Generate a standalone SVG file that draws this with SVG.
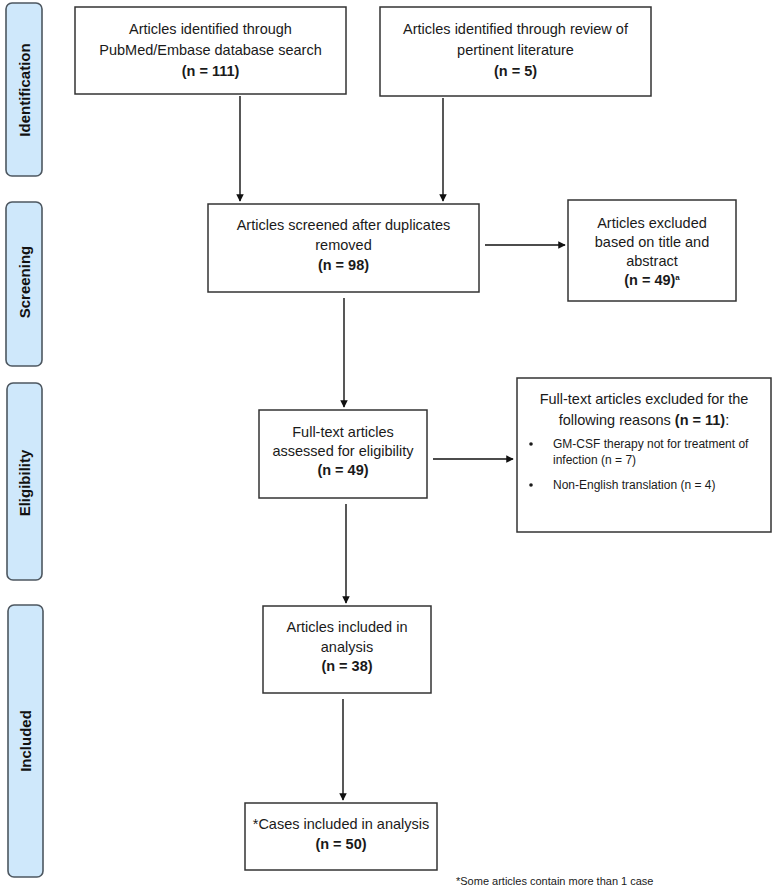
<svg xmlns="http://www.w3.org/2000/svg" width="777" height="888" viewBox="0 0 777 888">
<style>
.bg{fill:#ffffff}
.side{fill:#cfe8fb;stroke:#4d5760;stroke-width:1.6}
.sidet{font-family:"Liberation Sans",Arial,sans-serif;font-size:15px;font-weight:bold;fill:#111;text-anchor:middle;dominant-baseline:central}
.box{fill:#ffffff;stroke:#333;stroke-width:1.5}
.t{font-family:"Liberation Sans",Arial,sans-serif;font-size:14.5px;fill:#1a1a1a;text-anchor:middle}
.b{font-weight:bold}
.s{font-family:"Liberation Sans",Arial,sans-serif;font-size:12px;fill:#1a1a1a}
.fn{font-family:"Liberation Sans",Arial,sans-serif;font-size:11px;fill:#1a1a1a}
.c{stroke:#111;stroke-width:1.4;fill:none;marker-end:url(#ah)}
</style>
<defs>
<marker id="ah" viewBox="0 0 10 10" refX="9" refY="5" markerWidth="7.5" markerHeight="7.5" orient="auto" markerUnits="userSpaceOnUse">
<path d="M0,0 L10,5 L0,10 z" fill="#111"/>
</marker>
</defs>
<rect class="bg" x="0" y="0" width="777" height="888"/>

<g id="phase-identification">
<rect class="side" x="6" y="3" width="36" height="173" rx="6"/>
<text class="sidet" transform="translate(24,90) rotate(-90)">Identification</text>
</g>
<g id="phase-screening">
<rect class="side" x="6" y="202" width="36" height="164" rx="6"/>
<text class="sidet" transform="translate(24,282) rotate(-90)">Screening</text>
</g>
<g id="phase-eligibility">
<rect class="side" x="7" y="383" width="35" height="197" rx="6"/>
<text class="sidet" transform="translate(24,483) rotate(-90)">Eligibility</text>
</g>
<g id="phase-included">
<rect class="side" x="8" y="605" width="35" height="272" rx="6"/>
<text class="sidet" transform="translate(25,741) rotate(-90)">Included</text>
</g>

<g id="connectors">
<line class="c" x1="240" y1="96" x2="240" y2="201"/>
<line class="c" x1="443" y1="98" x2="443" y2="201"/>
<line class="c" x1="485" y1="245" x2="565" y2="245"/>
<line class="c" x1="344" y1="298" x2="344" y2="407"/>
<line class="c" x1="433" y1="459" x2="513" y2="459"/>
<line class="c" x1="346" y1="504" x2="346" y2="603"/>
<line class="c" x1="343" y1="699" x2="343" y2="800"/>
</g>

<g id="node-pubmed">
<rect class="box" x="75" y="7" width="271" height="87"/>
<text class="t" x="210.5" y="34">Articles identified through</text>
<text class="t" x="210.5" y="55">PubMed/Embase  database search</text>
<text class="t b" x="210.5" y="76">(n = 111)</text>
</g>
<g id="node-literature">
<rect class="box" x="380" y="7" width="271" height="89"/>
<text class="t" x="515.5" y="34">Articles identified through review of</text>
<text class="t" x="515.5" y="55">pertinent literature</text>
<text class="t b" x="515.5" y="76">(n = 5)</text>
</g>
<g id="node-screened">
<rect class="box" x="208" y="204" width="271" height="88"/>
<text class="t" x="343.5" y="230">Articles screened after duplicates</text>
<text class="t" x="343.5" y="250">removed</text>
<text class="t b" x="343.5" y="270">(n = 98)</text>
</g>
<g id="node-excluded-title">
<rect class="box" x="568" y="200" width="168" height="101"/>
<text class="t" x="652" y="228">Articles excluded</text>
<text class="t" x="652" y="247">based on title and</text>
<text class="t" x="652" y="266">abstract</text>
<text class="t b" x="652" y="285">(n = 49)<tspan font-size="8" dy="-5">a</tspan></text>
</g>
<g id="node-fulltext">
<rect class="box" x="259" y="410" width="168" height="88"/>
<text class="t" x="343" y="437">Full-text articles</text>
<text class="t" x="343" y="456">assessed for eligibility</text>
<text class="t b" x="343" y="475">(n = 49)</text>
</g>
<g id="node-excluded-fulltext">
<rect class="box" x="517" y="378" width="254" height="154"/>
<text class="t" x="644" y="404">Full-text articles excluded for the</text>
<text class="t" x="644" y="425">following reasons <tspan class="b">(n = 11)</tspan>:</text>
<circle cx="531" cy="444" r="1.8" fill="#1a1a1a"/>
<text class="s" x="553" y="448">GM-CSF therapy not for treatment of</text>
<text class="s" x="553" y="464">infection (n = 7)</text>
<circle cx="531" cy="485" r="1.8" fill="#1a1a1a"/>
<text class="s" x="553" y="489">Non-English translation (n = 4)</text>
</g>
<g id="node-included">
<rect class="box" x="263" y="606" width="168" height="87"/>
<text class="t" x="347" y="632">Articles included in</text>
<text class="t" x="347" y="652">analysis</text>
<text class="t b" x="347" y="671">(n = 38)</text>
</g>
<g id="node-cases">
<rect class="box" x="245" y="803" width="192" height="67"/>
<text class="t" x="341" y="829">*Cases included in analysis</text>
<text class="t b" x="341" y="849">(n = 50)</text>
</g>
<text class="fn" x="456" y="885">*Some articles contain more than 1 case</text>
</svg>
